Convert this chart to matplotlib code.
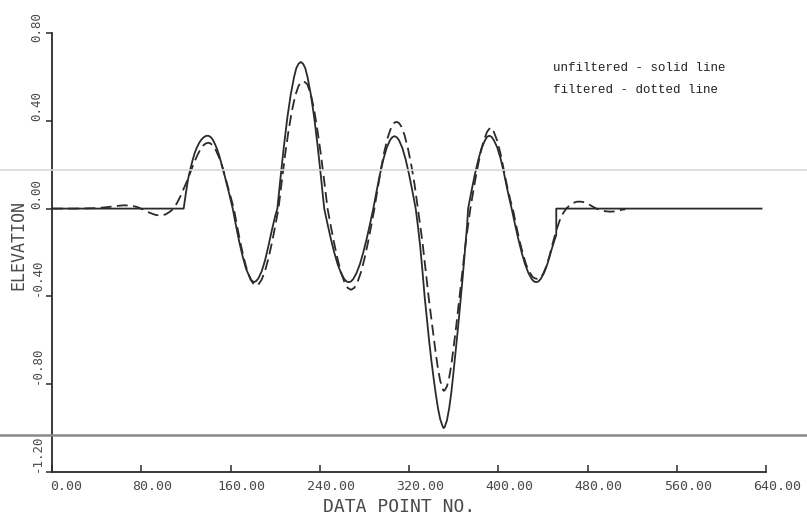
import matplotlib
matplotlib.use("Agg")
import matplotlib.pyplot as plt
from matplotlib.lines import Line2D
from matplotlib.transforms import ScaledTranslation

# ---------------- data ----------------
# unfiltered (solid line)
unf_x = [0, 117, 118, 120, 122, 124, 126, 128, 130, 132, 134, 136, 138, 140, 142, 144, 146, 148, 150, 154, 158, 162,
         165, 168, 171, 174, 177, 179, 181, 183, 185, 188, 191, 194, 197, 200, 202,
         205, 208, 211, 214, 217, 219, 221, 223, 225, 227, 229, 232, 235, 238, 241, 244,
         247, 250, 253, 256, 259, 262, 264, 266, 268, 270, 273, 276, 279, 282, 285, 288,
         291, 294, 297, 300, 303, 305, 307, 309, 311, 314, 317, 320, 323, 326,
         328, 330, 332, 334, 336, 338, 340, 342, 344, 346, 348, 350, 351, 352, 354, 356, 358,
         360, 362, 364, 366, 368, 370, 372, 373,
         376, 379, 382, 385, 388, 390, 392, 394, 396, 399, 402, 405, 408, 412,
         415, 418, 421, 424, 427, 430, 432, 434, 436, 438, 441, 444, 447, 450, 452, 452, 636]
unf_y = [0, 0, 0.0, 0.07, 0.135, 0.18, 0.22, 0.255, 0.28, 0.30, 0.315, 0.325, 0.331, 0.332, 0.327, 0.315, 0.295, 0.27, 0.24, 0.165, 0.085, 0.0,
         -0.08, -0.155, -0.22, -0.275, -0.31, -0.328, -0.335, -0.33, -0.318, -0.285, -0.235, -0.17, -0.10, -0.035, 0.0,
         0.149, 0.29, 0.416, 0.52, 0.60, 0.64, 0.66, 0.668, 0.66, 0.64, 0.60, 0.52, 0.416, 0.29, 0.149, 0.0,
         -0.071, -0.139, -0.20, -0.253, -0.293, -0.321, -0.332, -0.335, -0.332, -0.321, -0.293, -0.253, -0.20, -0.139, -0.071, 0.0,
         0.081, 0.157, 0.224, 0.277, 0.312, 0.325, 0.33, 0.325, 0.312, 0.277, 0.224, 0.157, 0.081, 0.0,
         -0.08, -0.17, -0.28, -0.40, -0.50, -0.60, -0.69, -0.77, -0.845, -0.91, -0.96, -0.99, -1.0, -0.995, -0.965, -0.91, -0.835,
         -0.74, -0.64, -0.54, -0.43, -0.32, -0.20, -0.08, 0.0,
         0.08, 0.155, 0.22, 0.275, 0.31, 0.327, 0.332, 0.327, 0.312, 0.28, 0.23, 0.165, 0.09, 0.0,
         -0.071, -0.139, -0.20, -0.253, -0.293, -0.321, -0.332, -0.335, -0.332, -0.321, -0.293, -0.253, -0.20, -0.15, -0.12, 0.0, 0.0]

# filtered (dashed line)
fil_x = [0, 20, 40, 50, 58, 64, 70, 76, 82, 88, 93, 98, 102, 106, 109,
         112, 115, 118, 121, 124, 127, 130, 133, 136, 138, 140, 142, 144, 147, 150, 153, 156, 159, 163,
         166, 169, 172, 175, 178, 181, 183, 185, 188, 191, 194, 197, 200, 203,
         206, 209, 212, 215, 218, 221, 223, 225, 227, 229, 232, 235, 238, 241, 244, 247,
         250, 253, 256, 259, 262, 265, 268, 271, 274, 277, 280, 283, 286, 289,
         292, 295, 298, 301, 304, 307, 309, 311, 313, 316, 319, 322, 325, 328,
         330, 332, 334, 336, 338, 340, 342, 344, 346, 348, 350, 351, 352, 354, 356, 358,
         360, 362, 364, 366, 368, 370, 372, 375,
         378, 381, 384, 387, 390, 393, 396, 399, 402, 405, 408, 411, 413,
         416, 419, 422, 425, 428, 431, 433, 435, 437, 440, 443, 446, 449, 452, 455, 458, 461,
         464, 467, 470, 473, 476, 479, 482, 485, 488, 492, 496, 500, 504, 508, 511, 514]
fil_y = [0, 0, 0.002, 0.007, 0.012, 0.015, 0.014, 0.008, -0.005, -0.02, -0.029, -0.032, -0.026, -0.013, 0.0,
         0.025, 0.055, 0.09, 0.125, 0.165, 0.205, 0.24, 0.27, 0.29, 0.297, 0.30, 0.297, 0.288, 0.265, 0.23, 0.185, 0.13, 0.075, 0.0,
         -0.082, -0.159, -0.227, -0.283, -0.323, -0.346, -0.35, -0.346, -0.323, -0.283, -0.227, -0.159, -0.082, 0.0,
         0.126, 0.247, 0.354, 0.444, 0.514, 0.559, 0.575, 0.58, 0.575, 0.565, 0.52, 0.45, 0.354, 0.247, 0.126, 0.0,
         -0.082, -0.16, -0.23, -0.289, -0.333, -0.361, -0.37, -0.361, -0.333, -0.289, -0.23, -0.16, -0.082, 0.0,
         0.094, 0.184, 0.262, 0.325, 0.369, 0.392, 0.395, 0.39, 0.375, 0.335, 0.275, 0.20, 0.11, 0.0,
         -0.07, -0.15, -0.24, -0.33, -0.42, -0.50, -0.58, -0.66, -0.73, -0.785, -0.82, -0.83, -0.828, -0.81, -0.77, -0.71,
         -0.63, -0.55, -0.46, -0.37, -0.28, -0.19, -0.11, 0.0,
         0.091, 0.176, 0.251, 0.31, 0.35, 0.37, 0.35, 0.31, 0.251, 0.176, 0.10, 0.035, 0.0,
         -0.075, -0.145, -0.205, -0.255, -0.29, -0.312, -0.318, -0.32, -0.317, -0.30, -0.265, -0.215, -0.155, -0.10, -0.055, -0.022, 0.0,
         0.015, 0.025, 0.031, 0.032, 0.03, 0.025, 0.017, 0.008, 0.0, -0.007, -0.012, -0.014, -0.013, -0.009, -0.005, -0.003]

x_ticks = [0, 80, 160, 240, 320, 400, 480, 560, 640]
x_tick_labels = ["0.00", "80.00", "160.00", "240.00", "320.00", "400.00", "480.00", "560.00", "640.00"]
y_ticks = [-1.2, -0.8, -0.4, 0.0, 0.4, 0.8]
y_tick_labels = ["-1.20", "-0.80", "-0.40", "0.00", "0.40", "0.80"]
legend_lines = ["unfiltered - solid line", "filtered - dotted line"]

# ---------------- figure ----------------
W, H = 807, 518
DPI = 100
fig = plt.figure(figsize=(W / DPI, H / DPI), dpi=DPI)
fig.patch.set_facecolor("white")
ax = fig.add_axes([52 / W, 1 - 472 / H, (766 - 52) / W, (472 - 33) / H])

ink = "#2b2b2b"
txt = "#4a4a4a"
ax.plot(unf_x, unf_y, color=ink, lw=1.3, solid_joinstyle="round")
ax.plot(fil_x, fil_y, color=ink, lw=1.3, linestyle=(0, (6, 3)))

ax.set_xlim(0, 640)
ax.set_ylim(-1.2, 0.8)
for s in ["top", "right"]:
    ax.spines[s].set_visible(False)
for s in ["left", "bottom"]:
    ax.spines[s].set_color(ink)
    ax.spines[s].set_linewidth(1.3)

ax.set_xticks(x_ticks)
ax.set_xticklabels(x_tick_labels, fontsize=9.5, color=txt, family="DejaVu Sans Mono")
ax.set_yticks(y_ticks)
ax.set_yticklabels(y_tick_labels, fontsize=9, color=txt, family="DejaVu Sans Mono",
                   rotation=90, va="bottom")
ax.tick_params(axis="x", direction="in", length=5, width=1.1, color=ink, pad=6)
ax.tick_params(axis="y", direction="out", length=4, width=1.1, color=ink, pad=2)

# plotter-style label placement: x labels sit slightly right of their ticks
for i, lab in enumerate(ax.get_xticklabels()):
    dx = (14 if i == 0 else 11) / DPI
    lab.set_transform(lab.get_transform() + ScaledTranslation(dx, 0, fig.dpi_scale_trans))
ylabs = ax.get_yticklabels()
ylabs[-1].set_transform(ylabs[-1].get_transform() + ScaledTranslation(0, -9 / DPI, fig.dpi_scale_trans))

ax.set_xlabel("DATA POINT NO.", fontsize=13, color=txt, family="DejaVu Sans Mono",
              va="center", ha="center")
ax.xaxis.set_label_coords((399 - 52) / 714, (472 - 507) / 439)
ax.set_ylabel("ELEVATION", fontsize=12, color=txt, family="DejaVu Sans Mono",
              va="center", ha="center")
ax.yaxis.set_label_coords((18 - 52) / 714, (472 - 245) / 439)

for i, line in enumerate(legend_lines):
    fig.text(553 / W, 1 - (68 + 22 * i) / H, line, fontsize=9, family="Liberation Mono",
             color="#222222", va="center", ha="left")

# faint scan lines across the page
fig.add_artist(Line2D([0, 1], [1 - 170 / H, 1 - 170 / H], transform=fig.transFigure,
                      color="#d8d8d8", lw=1.2))
fig.add_artist(Line2D([0, 1], [1 - 435 / H, 1 - 435 / H], transform=fig.transFigure,
                      color="#8a8a8a", lw=1.8))

fig.savefig("out.png", dpi=DPI, facecolor="white")
